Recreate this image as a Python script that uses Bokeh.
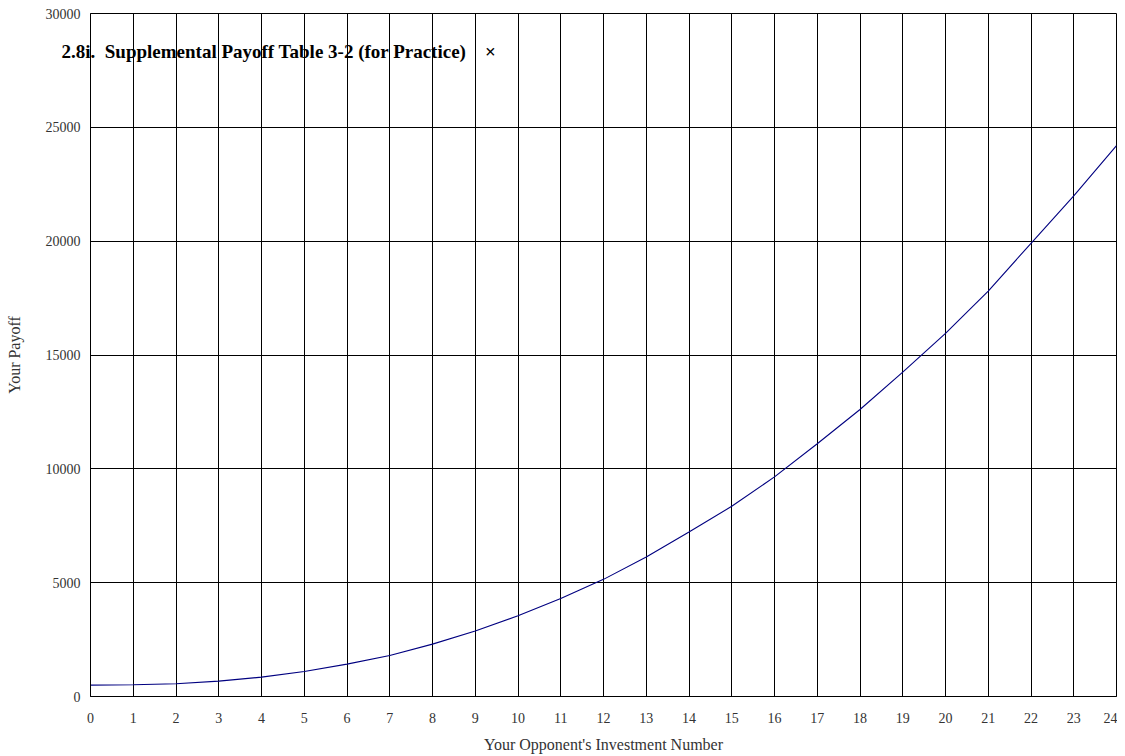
from bokeh.plotting import figure
from bokeh.models import Title, FixedTicker, Range1d
from bokeh.embed import file_html
from bokeh.resources import INLINE

investment = list(range(0, 25))
payoff = [500, 515, 557, 674, 850, 1100, 1422, 1803, 2300, 2873, 3548, 4300,
          5145, 6127, 7226, 8355, 9645, 11100, 12607, 14248, 15948, 17810,
          19907, 21988, 24200]
x_ticks = list(range(0, 25))
y_ticks = [0, 5000, 10000, 15000, 20000, 25000, 30000]
NB = "\u00a0"
title_text = "2.8i." + NB * 2 + "Supplemental Payoff Table 3-2 (for Practice)" + NB * 4 + "\u00d7"

FONT = "Liberation Serif"

p = figure(width=1117, height=756, output_backend="svg", toolbar_location=None,
           x_range=Range1d(0, 24), y_range=Range1d(0, 30000),
           min_border_left=90, min_border_right=1, min_border_top=13,
           min_border_bottom=60)

p.line(investment, payoff, line_color="#000080", line_width=1.1)

for ax in (p.xaxis[0], p.yaxis[0]):
    ax.major_tick_in = 0
    ax.major_tick_out = 0
    ax.minor_tick_in = 0
    ax.minor_tick_out = 0
    ax.axis_line_color = "black"
    ax.major_label_text_font = FONT
    ax.major_label_text_font_size = "14px"
    ax.major_label_text_color = "#333333"
    ax.axis_label_text_font = FONT
    ax.axis_label_text_font_size = "16px"
    ax.axis_label_text_font_style = "normal"
    ax.axis_label_text_color = "#333333"

p.xaxis.ticker = FixedTicker(ticks=x_ticks)
p.yaxis.ticker = FixedTicker(ticks=y_ticks)
p.xaxis.axis_label = "Your Opponent's Investment Number"
p.yaxis.axis_label = "Your Payoff"
p.xaxis.major_label_standoff = 16
p.yaxis.major_label_standoff = 10
p.xaxis.axis_label_standoff = 10
p.yaxis.axis_label_standoff = 20

p.xgrid.grid_line_color = "black"
p.ygrid.grid_line_color = "black"
p.xgrid.grid_line_alpha = 1
p.ygrid.grid_line_alpha = 1

p.outline_line_color = "black"
p.outline_line_alpha = 1
p.background_fill_color = "white"
p.border_fill_color = "white"

p.add_layout(Title(text=title_text, align="left", offset=-29, standoff=-96,
                   vertical_align="bottom", text_font=FONT,
                   text_font_size="19px", text_font_style="bold",
                   text_color="black"), "above")

open("out.html", "w").write(file_html(p, INLINE))
